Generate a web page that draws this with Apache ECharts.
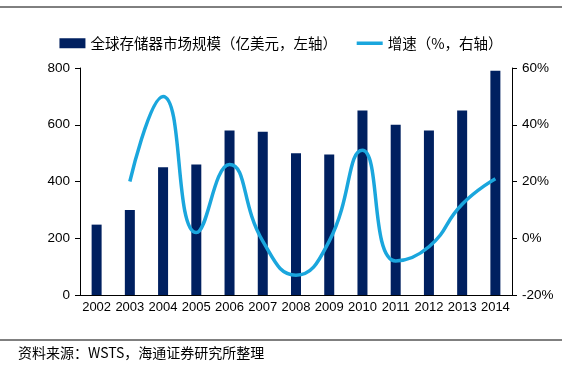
<!DOCTYPE html>
<html><head><meta charset="utf-8">
<script src="https://cdn.jsdelivr.net/npm/echarts@6/dist/echarts.min.js"></script>
<style>html,body{margin:0;padding:0;background:#fff}#c{width:562px;height:373px}</style>
</head><body><div id="c"></div>
<script>
var years = ['2002','2003','2004','2005','2006','2007','2008','2009','2010','2011','2012','2013','2014'];
var marketSize = [248, 300, 450, 460, 580, 575, 500, 495, 650, 600, 580, 650, 790];
var growth = [null, 20, 50, 2, 26, -1, -13, -1, 31, -8, -3, 12, 21];
var leftTicks = [0, 200, 400, 600, 800];
var rightTicks = [-20, 0, 20, 40, 60];

var chart = echarts.init(document.getElementById('c'));
var font = '"Liberation Sans", Arial, sans-serif';
var cjk = '"Noto Sans CJK SC", sans-serif';
chart.setOption({
  animation: false,
  legend: {
    top: 31, left: 'center',
    itemWidth: 26, itemHeight: 10, itemGap: 18,
    textStyle: {fontFamily: cjk, fontSize: 14.5, color: '#000'},
    data: [
      {name: '全球存储器市场规模（亿美元，左轴）', icon: 'rect'},
      {name: '增速（%，右轴）', itemStyle: {opacity: 0}, lineStyle: {width: 3.5, color: '#1aa6dd'}}
    ]
  },
  grid: {left: 80, right: 50, top: 68, bottom: 78},
  xAxis: {
    type: 'category', data: years,
    axisLine: {lineStyle: {color: '#000'}},
    axisTick: {alignWithLabel: false, length: 5, lineStyle: {color: '#000'}},
    axisLabel: {color: '#000', fontFamily: font, fontSize: 13, margin: 6, interval: 0}
  },
  yAxis: [{
    type: 'value', min: leftTicks[0], max: leftTicks[leftTicks.length-1], interval: 200,
    axisLine: {show: true, lineStyle: {color: '#000'}},
    axisTick: {show: true, length: 5, lineStyle: {color: '#000'}},
    splitLine: {show: false},
    axisLabel: {color: '#000', fontFamily: font, fontSize: 13.5, margin: 10}
  }, {
    type: 'value', min: rightTicks[0], max: rightTicks[rightTicks.length-1], interval: 20,
    position: 'right',
    axisLine: {show: true, lineStyle: {color: '#000'}},
    axisTick: {show: true, length: 5, lineStyle: {color: '#000'}},
    splitLine: {show: false},
    axisLabel: {color: '#000', fontFamily: font, fontSize: 13.5, margin: 10, formatter: '{value}%'}
  }],
  series: [{
    name: '全球存储器市场规模（亿美元，左轴）', type: 'bar', data: marketSize,
    barWidth: 10, itemStyle: {color: '#002060'}
  }, {
    name: '增速（%，右轴）', type: 'line', yAxisIndex: 1, data: growth,
    smooth: 0.5, symbol: 'none', connectNulls: false,
    lineStyle: {color: '#1aa6dd', width: 3.5}, itemStyle: {color: '#1aa6dd'}
  }],
  graphic: [
    {type: 'line', shape: {x1: 0, y1: 7, x2: 562, y2: 7}, style: {stroke: '#000', lineWidth: 1}},
    {type: 'line', shape: {x1: 0, y1: 340, x2: 562, y2: 340}, style: {stroke: '#000', lineWidth: 1}},
    {type: 'text', left: 18, top: 346, style: {text: '资料来源：WSTS，海通证券研究所整理', font: '14px "Noto Sans CJK SC", sans-serif', fill: '#000'}}
  ]
});
</script></body></html>
